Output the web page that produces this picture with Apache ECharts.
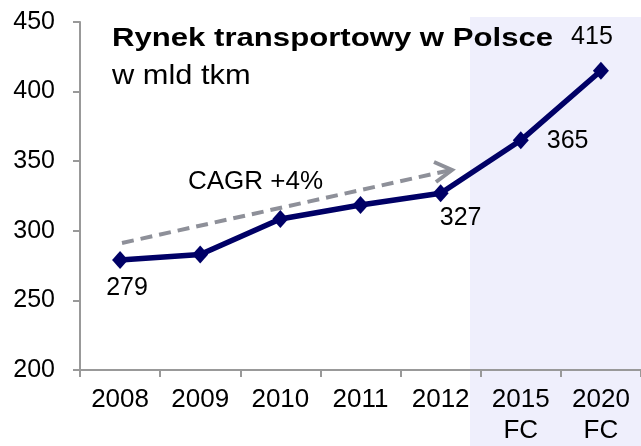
<!DOCTYPE html>
<html><head><meta charset="utf-8">
<script src="https://cdn.jsdelivr.net/npm/echarts@6/dist/echarts.min.js"></script>
<style>html,body{margin:0;padding:0;background:#fff}#c{width:641px;height:446px}</style>
</head><body><div id="c"></div>
<script>
var categories = ['2008','2009','2010','2011','2012','2015\nFC','2020\nFC'];
var values = [279, 283, 308.5, 318.5, 327, 365, 415];
var labelTexts = ['279','','','','327','365','415'];
var yTicks = [200, 250, 300, 350, 400, 450];
var titleText = 'Rynek transportowy w Polsce';
var subtitleText = 'w mld tkm';
var cagrText = 'CAGR +4%';

var FONT = 'Liberation Sans, Arial, sans-serif';
var labelPos = [
  {position:'bottom', distance:7, offset:[7,0]},
  null, null, null,
  {position:'bottom', distance:3, offset:[20,0]},
  {position:'right', distance:18, offset:[0,1]},
  {position:'top', distance:12, offset:[-9,0]}
];
var data = values.map(function(v,i){
  var d = {value:v};
  if (labelTexts[i]) {
    var p = labelPos[i];
    d.label = {show:true, formatter:labelTexts[i], position:p.position, distance:p.distance, offset:p.offset};
  }
  return d;
});
var chart = echarts.init(document.getElementById('c'));
chart.setOption({
  animation:false,
  grid:{left:80, top:22, width:567, bottom:72},
  xAxis:{type:'category', data:categories, boundaryGap:true,
    axisLine:{lineStyle:{color:'#999', width:2}},
    axisTick:{show:true, length:7, lineStyle:{color:'#999', width:2}},
    axisLabel:{color:'#000', fontSize:26, fontFamily:FONT, margin:14, lineHeight:31, interval:0}},
  yAxis:{type:'value', min:yTicks[0], max:yTicks[yTicks.length-1], interval:50,
    splitLine:{show:false},
    axisLine:{show:true, lineStyle:{color:'#999', width:2}},
    axisTick:{show:true, length:7, lineStyle:{color:'#999', width:2}},
    axisLabel:{color:'#000', fontSize:25, fontFamily:FONT, margin:25}},
  graphic:[
    {type:'rect', z:-10, shape:{x:470, y:17, width:175, height:430}, style:{fill:'#EFEFFC'}},
    {type:'text', x:112, y:26.5, scaleX:1.245, style:{text:titleText, font:'bold 25px ' + FONT, fill:'#000'}},
    {type:'text', x:112, y:62.5, scaleX:1.1, style:{text:subtitleText, font:'28px ' + FONT, fill:'#000'}},
    {type:'text', x:188, y:169, style:{text:cagrText, font:'26px ' + FONT, fill:'#000'}},
    {type:'line', z:5, shape:{x1:122, y1:243, x2:451, y2:170}, style:{stroke:'#8E9099', lineWidth:4, lineDash:[12,7]}},
    {type:'polyline', z:5, shape:{points:[[434,162],[452,170],[436,182]]}, style:{stroke:'#8E9099', lineWidth:4, fill:null}}
  ],
  series:[{type:'line', data:data, z:10,
    lineStyle:{color:'#000066', width:5.5},
    itemStyle:{color:'#000066'},
    symbol:'diamond', symbolSize:[16,18],
    label:{color:'#000', fontSize:25, fontFamily:FONT}
  }]
});
</script></body></html>
